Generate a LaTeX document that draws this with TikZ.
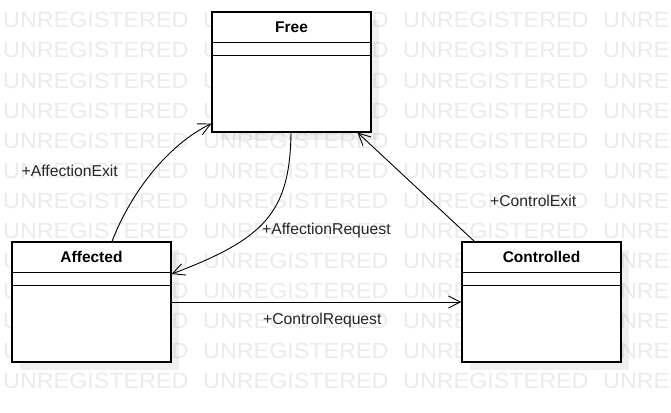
\documentclass[tikz,border=0pt]{standalone}
\usepackage{fontspec}
\setmainfont{Liberation Sans}
\usepackage{tikz}
\usetikzlibrary{arrows.meta, shadows}

\tikzset{
  watermark/.style={inner sep=0pt, anchor=base west, text=black!8,
    font=\fontsize{22}{22}\selectfont},
  umlclass/.style={draw, line width=1.1pt, fill=white, inner sep=0pt,
    minimum width=159pt, minimum height=120pt,
    drop shadow={shadow xshift=8pt, shadow yshift=-8pt, fill=black, opacity=0.06}},
  classname/.style={inner sep=0pt, anchor=base, font=\fontsize{15.5}{18}\selectfont\bfseries},
  lbl/.style={inner sep=0pt, anchor=base west, text=black!85,
    font=\fontsize{15.7}{18}\selectfont},
  assoc/.style={line width=0.9pt, -{Straight Barb[length=12pt,width=12pt]}}
}

\begin{document}
\begin{tikzpicture}[x=1pt, y=-1pt]
                \useasboundingbox (0, 0) rectangle (671, 412);
                % watermark
                \foreach \r in {0,...,12}
                  \foreach \c in {0,...,3}
                    \node[watermark] (wm-\r-\c) at (3 + 200*\c, 28 + 30*\r) {\scalebox{1.06}[1]{UNREGISTERED}};
                % classes
                \node[umlclass] (free) at (291.5, 72) {};
                \node[umlclass] (affected) at (91.5, 302) {};
                \node[umlclass] (controlled) at (541.5, 302) {};
                \foreach \n in {free, affected, controlled} {
                  \draw[line width=1.1pt] ([yshift=-31pt]\n.north west) -- ([yshift=-31pt]\n.north east);
                  \draw[line width=1.1pt] ([yshift=-44pt]\n.north west) -- ([yshift=-44pt]\n.north east);
                }
                \node[classname] (free-name) at ([yshift=-21pt]free.north) {Free};
                \node[classname] (affected-name) at ([yshift=-21pt]affected.north) {Affected};
                \node[classname] (controlled-name) at ([yshift=-21pt]controlled.north) {Controlled};
                % transitions
                \draw[assoc] ([xshift=20.5pt]affected.north) .. controls +(18, -47) and +(-45, 22) .. ([yshift=9pt]free.south west);
                \draw[assoc] ([xshift=-0.5pt]free.south) .. controls +(-1, 80) and +(93, -35) .. ([yshift=28pt]affected.east);
                \draw[assoc] ([xshift=13pt]controlled.north west) -- ([xshift=-14pt]free.south east);
                \draw[assoc] (affected.east) -- (controlled.west);
                \node[lbl] (exit-lbl) at (21.5, 176) {+AffectionExit};
                \node[lbl] (request-lbl) at (262, 234) {+AffectionRequest};
                \node[lbl] (ctrlexit-lbl) at (490, 206) {+ControlExit};
                \node[lbl] (ctrlrequest-lbl) at (263, 324) {+ControlRequest};
            \end{tikzpicture}
\end{document}
